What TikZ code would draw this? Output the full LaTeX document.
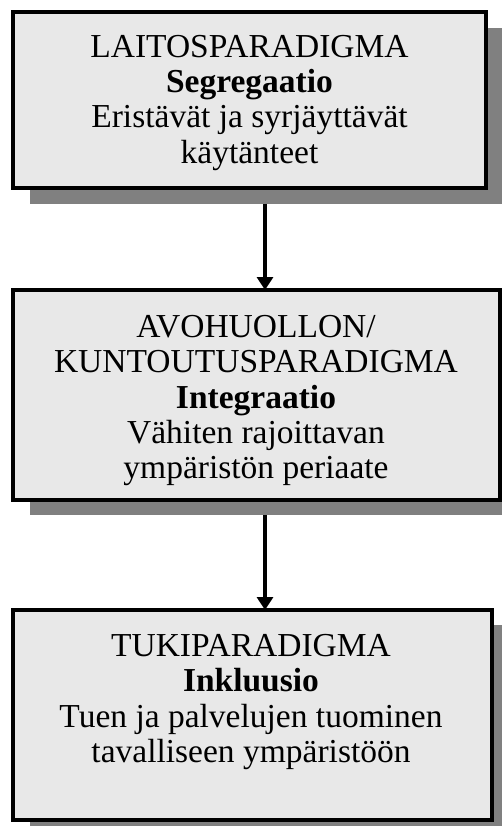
\documentclass[tikz,border=0pt]{standalone}
\usepackage{fontspec}
\setmainfont{Liberation Serif}
\usetikzlibrary{arrows.meta}
\definecolor{boxfill}{gray}{0.91}
\definecolor{shadowgray}{gray}{0.5}
\tikzset{
  box/.style={draw=black, line width=3.2pt, fill=boxfill, inner sep=0pt, outer sep=0pt, anchor=north west},
  shadowbox/.style={fill=shadowgray, draw=none, inner sep=0pt, outer sep=0pt, anchor=north west},
  txt/.style={anchor=base, inner sep=0pt, font=\fontsize{33.5}{35.3}\selectfont},
  arr/.style={line width=3.3pt, -{Triangle[width=16pt,length=13pt]}}
}
\begin{document}
\begin{tikzpicture}[x=1pt,y=-1pt]
\useasboundingbox (0,0) rectangle (502,826);
% shadows
\node[shadowbox, minimum width=472pt, minimum height=176pt] (s1) at (30,28) {};
\node[shadowbox, minimum width=472pt, minimum height=209pt] (s2) at (30,306) {};
\node[shadowbox, minimum width=472pt, minimum height=201pt] (s3) at (30,625) {};
% boxes
\node[box, minimum width=473pt, minimum height=176pt] (b1) at (13,12) {};
\node[box, minimum width=487pt, minimum height=210pt] (b2) at (13,290) {};
\node[box, minimum width=479pt, minimum height=210pt] (b3) at (13,610) {};
% texts
\node[txt] (t1) at (249.5,57.3) {\begin{tabular}[t]{@{}c@{}}LAITOSPARADIGMA\\\textbf{Segregaatio}\\Eristävät ja syrjäyttävät\\käytänteet\end{tabular}};
\node[txt] (t2) at (256,337.5) {\begin{tabular}[t]{@{}c@{}}AVOHUOLLON/\\KUNTOUTUSPARADIGMA\\\textbf{Integraatio}\\Vähiten rajoittavan\\ympäristön periaate\end{tabular}};
\node[txt] (t3) at (251,656.5) {\begin{tabular}[t]{@{}c@{}}TUKIPARADIGMA\\\textbf{Inkluusio}\\Tuen ja palvelujen tuominen\\tavalliseen ympäristöön\end{tabular}};
% arrows
\coordinate (ax) at (265,0);
\draw[arr] (s1.south -| ax) -- (b2.north -| ax);
\draw[arr] (s2.south -| ax) -- (b3.north -| ax);
\end{tikzpicture}
\end{document}
